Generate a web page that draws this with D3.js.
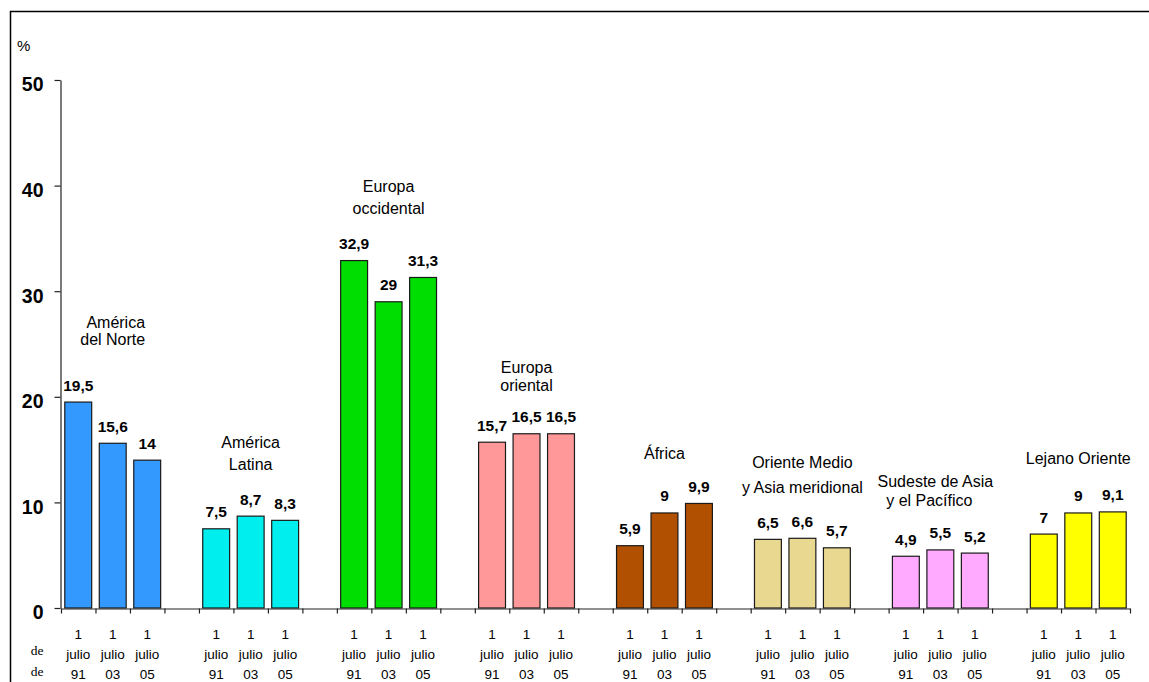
<!DOCTYPE html>
<html>
<head>
<meta charset="utf-8">
<script src="https://cdn.jsdelivr.net/npm/d3@7"></script>
<style>
  body { margin: 0; background: #fff; }
  svg { display: block; font-family: Arial, "Liberation Sans", sans-serif; }
</style>
</head>
<body>
<div id="chart"></div>
<script>

// data
var regiones = [
    ["América", "del Norte"],
    ["América", "Latina"],
    ["Europa", "occidental"],
    ["Europa", "oriental"],
    ["África"],
    ["Oriente Medio", "y Asia meridional"],
    ["Sudeste de Asia", "y el Pacífico"],
    ["Lejano Oriente"]
];
var anios = ["91", "03", "05"];
var v1991 = [19.5, 7.5, 32.9, 15.7, 5.9, 6.5, 4.9, 7];
var v2003 = [15.6, 8.7, 29, 16.5, 9, 6.6, 5.5, 9];
var v2005 = [14, 8.3, 31.3, 16.5, 9.9, 5.7, 5.2, 9.1];
var yTicks = [0, 10, 20, 30, 40, 50];

// style
var colores = ["#3399ff", "#00eeee", "#00dd00", "#ff9999", "#b05000", "#e8d890", "#ffaaff", "#ffff00"];
// region label layout: first baseline (px), line gap, horizontal shifts
var etiquetaY = [328, 448, 192, 373, 459, 468, 487, 464];
var etiquetaGap = [17, 22, 22, 18, 0, 25, 19, 0];
var etiquetaDx = [[3, 0], [0, 0], [0, 0], [0, 0], [0], [0, 0], [-5, -11], [0]];

var W = 1149, H = 682;
var margin = { left: 61, right: 19, top: 80, bottom: 74 };

var svg = d3.select("#chart").append("svg")
    .attr("width", W)
    .attr("height", H);

// frame
svg.append("rect")
    .attr("x", 10.5).attr("y", 11.5)
    .attr("width", W + 20).attr("height", H + 20)
    .attr("fill", "none")
    .attr("stroke", "#000")
    .attr("stroke-width", 1.5);

// flatten into bars: 3 per region, one empty slot between regions
var series = [v1991, v2003, v2005];
var bars = [];
regiones.forEach(function (r, g) {
    series.forEach(function (s, b) {
        bars.push({ region: g, year: b, value: s[g], slot: g * 4 + b });
    });
});
var nSlots = regiones.length * 4 - 1;

var x0 = margin.left, x1 = W - margin.right;
var yBottom = H - margin.bottom;

var x = d3.scaleBand()
    .domain(d3.range(nSlots))
    .range([x0, x1])
    .paddingInner(0.22)
    .paddingOuter(0.11);

var xEdge = d3.scaleLinear()
    .domain([0, nSlots])
    .range([x0, x1]);

var y = d3.scaleLinear()
    .domain([0, 50])
    .range([yBottom, margin.top]);

// y axis
var yaxis = svg.append("g")
    .attr("transform", "translate(" + (x0 - 0.5) + ",0)")
    .call(d3.axisLeft(y).tickValues(yTicks).tickSize(6).tickSizeOuter(0).tickPadding(11));
yaxis.selectAll("path").attr("stroke", "#222").attr("stroke-width", 1.2);
yaxis.selectAll("line").attr("stroke", "#222").attr("stroke-width", 1.2);
yaxis.selectAll("text")
    .attr("dy", "0.56em")
    .style("font", "bold 19.5px Arial, 'Liberation Sans', sans-serif")
    .attr("fill", "#000");

svg.append("text")
    .attr("x", 17).attr("y", 51)
    .style("font-size", "15px")
    .text("%");

// bars
svg.append("g").selectAll("rect")
    .data(bars)
    .enter().append("rect")
    .attr("x", function (d) { return x(d.slot); })
    .attr("y", function (d) { return y(d.value); })
    .attr("width", x.bandwidth())
    .attr("height", function (d) { return y(0) - y(d.value); })
    .attr("fill", function (d) { return colores[d.region]; })
    .attr("stroke", "#1a1a1a")
    .attr("stroke-width", 1.2);

// x axis with ticks at slot edges
var xaxis = svg.append("g")
    .attr("transform", "translate(0," + (yBottom + 0.5) + ")")
    .call(d3.axisBottom(xEdge).tickValues(d3.range(nSlots + 1)).tickSize(5).tickSizeOuter(0).tickFormat(""));
xaxis.selectAll("path").attr("stroke", "#222").attr("stroke-width", 1.2);
xaxis.selectAll("line").attr("stroke", "#222").attr("stroke-width", 1.2);

// value labels
svg.append("g").selectAll("text")
    .data(bars)
    .enter().append("text")
    .attr("x", function (d) { return x(d.slot) + x.bandwidth() / 2; })
    .attr("y", function (d) { return y(d.value) - 11.5; })
    .attr("text-anchor", "middle")
    .style("font", "bold 15.5px Arial, 'Liberation Sans', sans-serif")
    .text(function (d) { return String(d.value).replace(".", ","); });

// category labels below the axis
var cat = svg.append("g").selectAll("g")
    .data(bars)
    .enter().append("g")
    .attr("transform", function (d) { return "translate(" + (x(d.slot) + x.bandwidth() / 2) + ",0)"; });
cat.append("text").attr("y", 639).text("1");
cat.append("text").attr("y", 659).text("julio");
cat.append("text").attr("y", 679).text(function (d) { return anios[d.year]; });
cat.selectAll("text")
    .attr("text-anchor", "middle")
    .style("font-size", "13.5px");

["de", "de"].forEach(function (t, i) {
    svg.append("text")
        .attr("x", 37).attr("y", 655 + i * 21)
        .attr("text-anchor", "middle")
        .style("font", "13.5px 'Liberation Serif', 'DejaVu Serif', serif")
        .text(t);
});

// region labels
regiones.forEach(function (lines, g) {
    var cx = x(g * 4 + 1) + x.bandwidth() / 2;
    var t = svg.append("text")
        .attr("text-anchor", "middle")
        .style("font-size", "16px");
    lines.forEach(function (l, i) {
        t.append("tspan")
            .attr("x", cx + etiquetaDx[g][i])
            .attr("y", etiquetaY[g] + i * etiquetaGap[g])
            .text(l);
    });
});

</script>
</body>
</html>
